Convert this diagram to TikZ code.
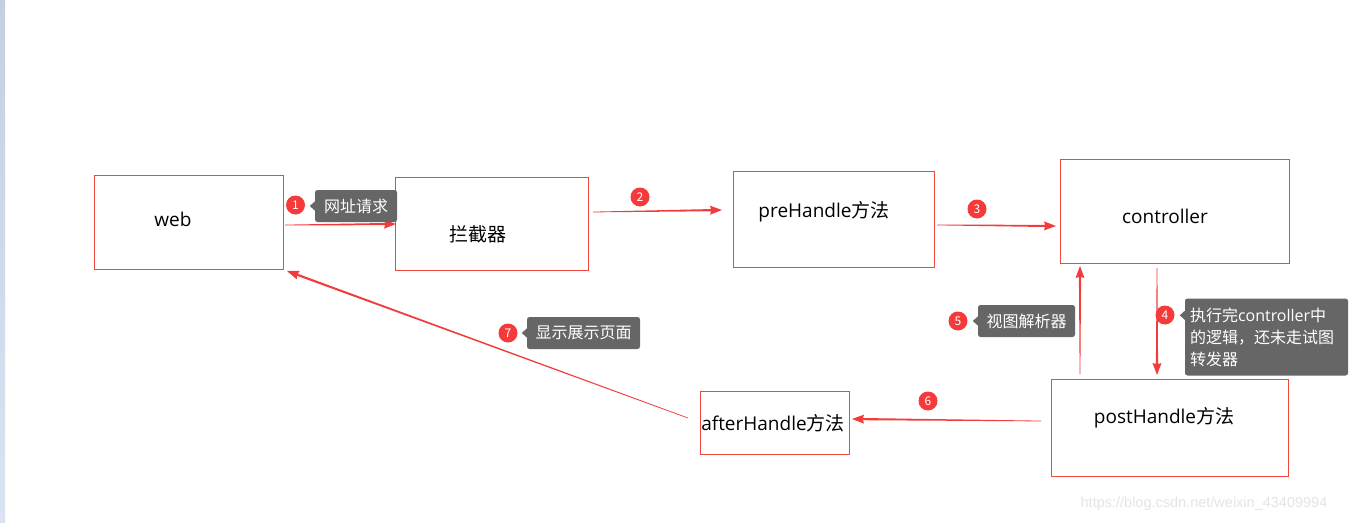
\documentclass[tikz,border=0pt]{standalone}
\usepackage{fontspec}
\setmainfont{Noto Sans CJK SC}
\newfontfamily\lat{Open Sans}
\newfontfamily\wmfont{Liberation Sans}
\usetikzlibrary{calc}
\definecolor{boxred}{HTML}{F0473F}
\definecolor{arrred}{HTML}{F23B3B}
\definecolor{numred}{HTML}{F43A3A}
\definecolor{tipgray}{HTML}{666666}
\definecolor{wmgray}{HTML}{E4E4E4}
\definecolor{stripA}{HTML}{C5CFE1}
\definecolor{stripB}{HTML}{DAE3F1}
\begin{document}
\begin{tikzpicture}[x=1pt,y=-1pt,
  box/.style n args={2}{draw=boxred,line width=0.8pt,minimum width=#1,minimum height=#2,inner sep=0pt,outer sep=0pt},
  lbl/.style={inner sep=0pt,font=\fontsize{19}{22}\selectfont},
  num/.style={circle,fill=numred,text=white,inner sep=0pt,minimum size=19pt,font=\fontsize{12}{12}\selectfont},
  tipbox/.style n args={2}{fill=tipgray,text=white,rounded corners=2.5pt,inner sep=0pt,minimum width=#1,minimum height=#2,font=\fontsize{16}{22}\selectfont},
  taper/.style={to path={
    let \p1=(\tikztostart),\p2=(\tikztotarget),\n1={atan2(\y2-\y1,\x2-\x1)} in
    ($(\p1)+(\n1+90:0.35pt)$) -- ($(\p2)+(\n1:-11pt)+(\n1+90:1.1pt)$)
    -- ($(\p2)+(\n1:-12pt)+(\n1+90:4.5pt)$) -- (\p2)
    -- ($(\p2)+(\n1:-12pt)+(\n1-90:4.5pt)$) -- ($(\p2)+(\n1:-11pt)+(\n1-90:1.1pt)$)
    -- ($(\p1)+(\n1-90:0.35pt)$) -- cycle}},
  arr/.style={fill=arrred}
]
\useasboundingbox (0,0) rectangle (1349,522);
\fill[white] (0,0) rectangle (1349,522);
\shade[top color=stripA,bottom color=stripB] (0,0) rectangle (5,522);

% boxes
\node[box={189pt}{94pt}] (web) at (188.5,222) {};
\node[box={193pt}{93pt}] (int) at (491.5,223.5) {};
\node[box={201pt}{96pt}] (pre) at (833.5,219) {};
\node[box={229pt}{104pt}] (ctrl) at (1174.5,211) {};
\node[box={237pt}{97pt}] (post) at (1169.5,427.5) {};
\node[box={149pt}{63pt}] (after) at (774.5,422.5) {};

% box texts
\node[lbl] (webt) at (173,219) {\lat web};
\node[lbl] (intt) at (478,234) {拦截器};
\node[lbl] (pret) at (824,212) {{\lat preHandle}方法};
\node[lbl] (ctrlt) at (1165,216) {\lat controller};
\node[lbl] (postt) at (1164,418) {{\lat postHandle}方法};
\node[lbl] (aftert) at (773,423) {{\lat afterHandle}方法};

% arrows
\fill[arr] ([shift={(2,3)}]web.east) to[taper] ([shift={(1,0.5)}]int.west);
\fill[arr] ([shift={(5,-11.5)}]int.east) to[taper] ([shift={(-11,-9)}]pre.west);
\fill[arr] ([shift={(3,6)}]pre.east) to[taper] ([shift={(-4,15)}]ctrl.west);
\fill[arr] ([shift={(-17.5,5)}]ctrl.south) to[taper] ([shift={(-12.5,-4)}]post.north);
\fill[arr] ([shift={(-89.5,-5)}]post.north) to[taper] ([shift={(-94.5,3)}]ctrl.south);
\fill[arr] ([shift={(-10,-6.5)}]post.west) to[taper] ([shift={(3,-3.5)}]after.east);
\fill[arr] ([shift={(-12,-4.5)}]after.west) to[taper] ([shift={(4,2)}]web.south east);

% step numbers
\node[num] (n1) at (295.5,205) {1};
\node[num] (n2) at (640,197) {2};
\node[num] (n3) at (977,209) {3};
\node[num] (n4) at (1165,315) {4};
\node[num] (n5) at (958,321) {5};
\node[num] (n6) at (928,401) {6};
\node[num] (n7) at (508,333) {7};

% tooltips
\node[tipbox={82pt}{32pt}] (t1) at (356,206) {网址请求};
\fill[tipgray] ($(t1.west)+(0.5,-5)$) -- ++(-5.5,5) -- ++(5.5,5) -- cycle;
\node[tipbox={97pt}{32pt}] (t5) at (1026.5,321) {视图解析器};
\fill[tipgray] ($(t5.west)+(0.5,-5)$) -- ++(-5.5,5) -- ++(5.5,5) -- cycle;
\node[tipbox={113pt}{32pt}] (t7) at (583.5,333) {显示展示页面};
\fill[tipgray] ($(t7.west)+(0.5,-5)$) -- ++(-5.5,5) -- ++(5.5,5) -- cycle;
\node[tipbox={163pt}{77pt},align=left,text width=153pt] (t4) at (1266.5,337) {执行完{\lat controller}中\\的逻辑，还未走试图\\转发器};
\fill[tipgray] ($(t4.north west)+(0.5,12)$) -- ++(-5.5,5) -- ++(5.5,5) -- cycle;

% watermark
\node[inner sep=0pt,text=wmgray,font=\wmfont\fontsize{14.5}{16}\selectfont] (wm) at (1204,504) {https://blog.csdn.net/weixin\_43409994};
\end{tikzpicture}
\end{document}
